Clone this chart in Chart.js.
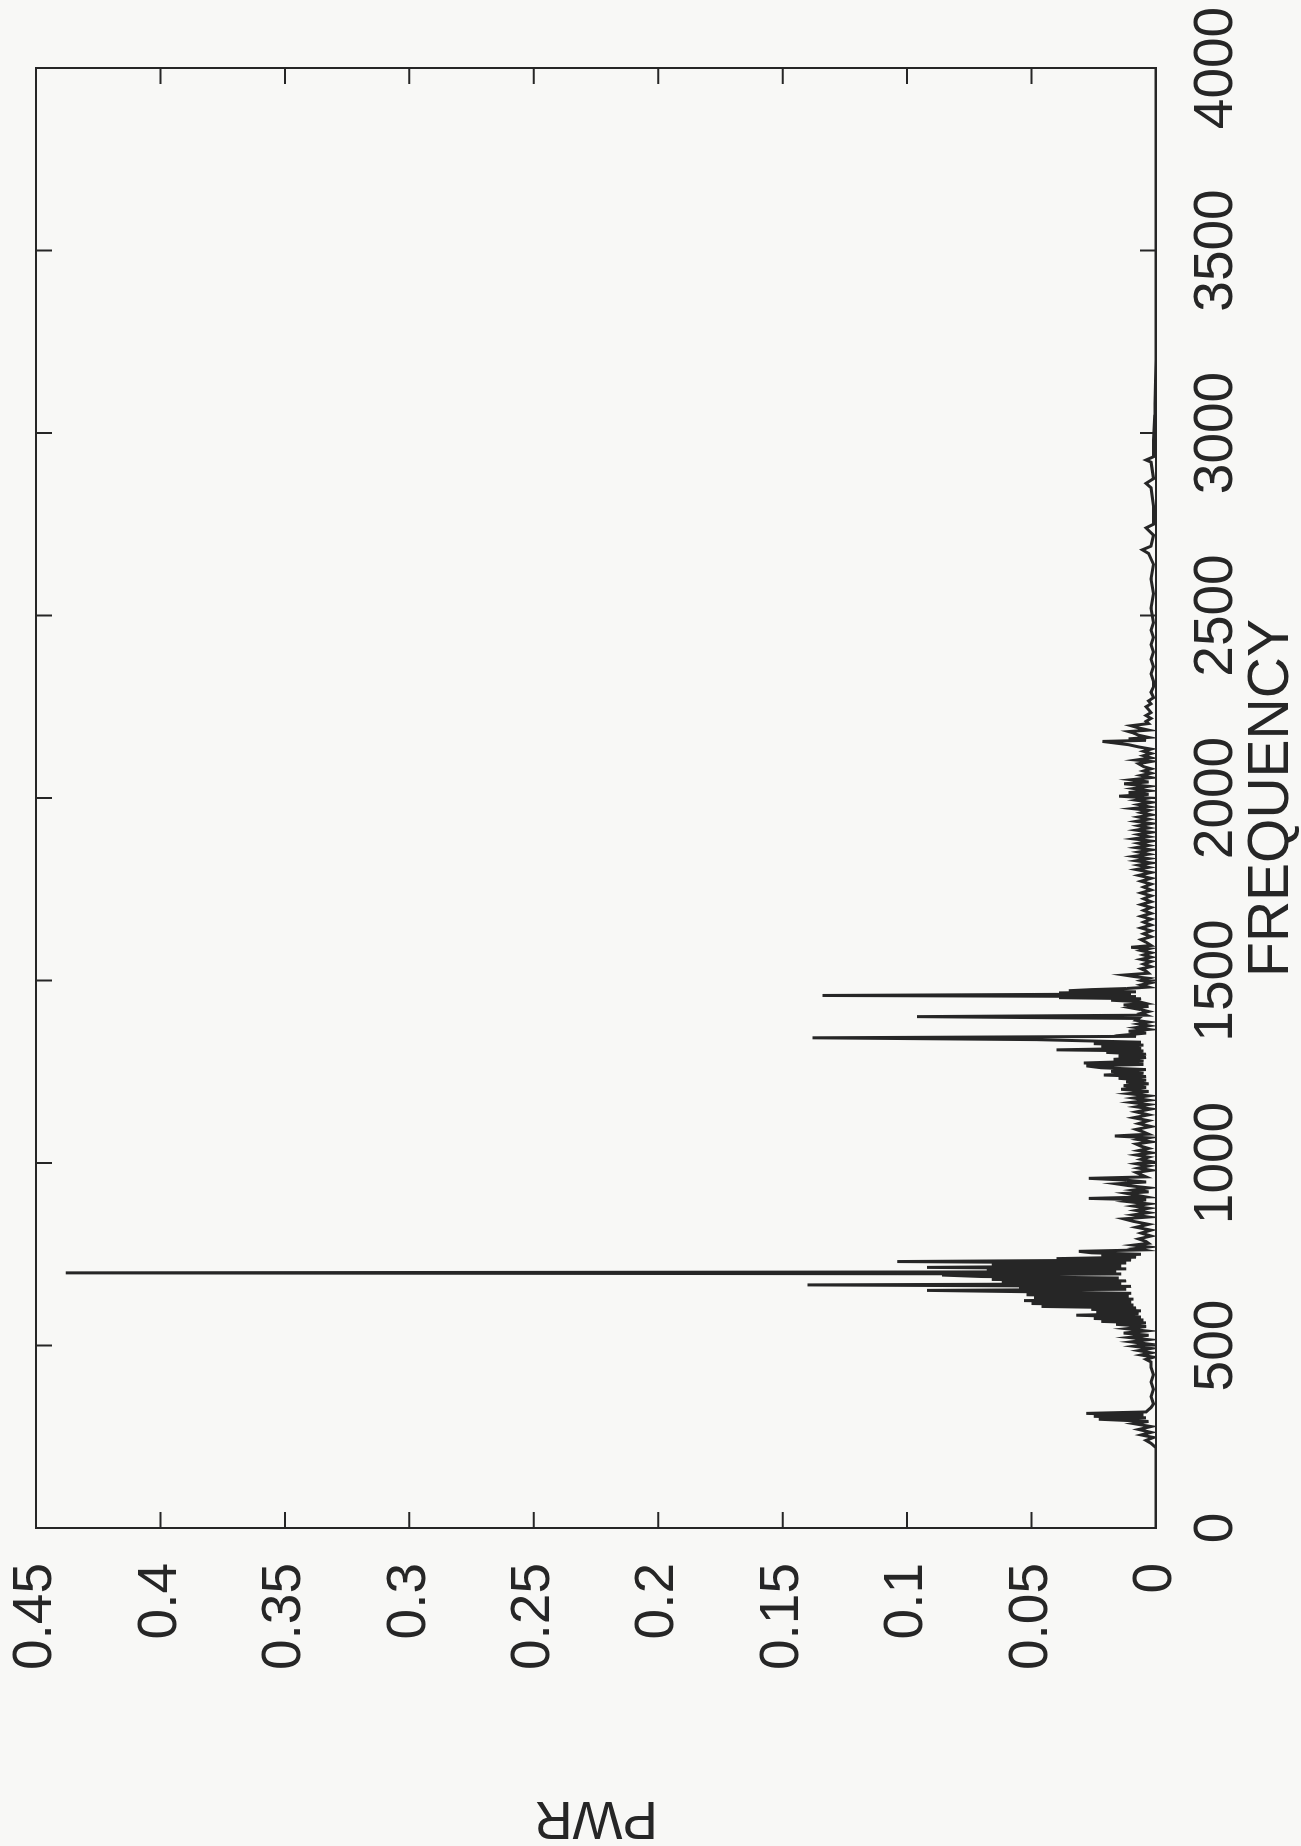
<!DOCTYPE html>
<html>
<head>
<meta charset="utf-8">
<script src="https://cdn.jsdelivr.net/npm/chart.js@4.4.1/dist/chart.umd.min.js"></script>
<style>
  html, body { margin: 0; padding: 0; overflow: hidden; background: #f8f8f6; }
  body { width: 1301px; height: 1846px; position: relative; }
  /* the scanned figure is printed sideways: draw it upright, then turn it */
  #turn {
    position: absolute; left: 0; top: 0;
    width: 1846px; height: 1301px;
    transform-origin: 0 0;
    transform: translateY(1846px) rotate(-90deg);
  }
</style>
</head>
<body>
<div id="turn"><canvas id="spec" width="1846" height="1301"></canvas></div>
<script>
// ---- data: [frequency, PWR] ----
const FREQ_TICKS = [0, 500, 1000, 1500, 2000, 2500, 3000, 3500, 4000];
const PWR_TICKS = [0, 0.05, 0.1, 0.15, 0.2, 0.25, 0.3, 0.35, 0.4, 0.45];

const band0to450 = [
  [0,0],[100,0],[220,0],[232,0.002],[240,0.004],[248,0.001],[255,0.006],[262,0.002],
  [270,0.007],[278,0.002],[286,0.009],[292,0.003],[298,0.023],[302,0.004],[306,0.025],
  [310,0.005],[314,0.028],[318,0.004],[324,0.003],[330,0.002],[340,0.001],[360,0.002],
  [380,0.001],[400,0.002],[420,0.001],[440,0.002]
];

const band450to780 = [
  [455,0.002],[462,0.004],[468,0.001],[474,0.006],[480,0.002],[486,0.007],[492,0.002],
  [498,0.009],[504,0.003],[510,0.010],[516,0.003],[522,0.011],[528,0.003],[534,0.013],
  [540,0.004],[546,0.012],[552,0.004],[558,0.016],[562,0.004],[566,0.022],[570,0.005],
  [574,0.025],[578,0.006],[583,0.032],[587,0.007],[591,0.024],[595,0.006],[599,0.026],
  [603,0.008],[607,0.046],[611,0.009],[615,0.050],[619,0.010],[623,0.053],[627,0.009],
  [631,0.049],[635,0.011],[639,0.052],[643,0.010],[647,0.048],[651,0.092],[654,0.012],
  [658,0.055],[662,0.010],[666,0.140],[669,0.014],[673,0.062],[677,0.012],[681,0.066],
  [685,0.015],[689,0.070],[693,0.086],[696,0.014],[699,0.438],[702,0.016],[706,0.068],
  [710,0.012],[714,0.092],[718,0.014],[722,0.066],[726,0.012],[730,0.104],[734,0.010],
  [738,0.040],[742,0.008],[746,0.022],[750,0.006],[754,0.026],[758,0.031],[762,0.005],
  [766,0.008],[770,0.003],[775,0.009],[780,0.003]
];

const band780to1080 = [
  [785,0.004],[792,0.007],[800,0.002],[808,0.006],[816,0.002],[824,0.008],[832,0.003],
  [840,0.009],[847,0.013],[852,0.003],[858,0.009],[864,0.003],[870,0.008],[876,0.003],
  [882,0.009],[888,0.003],[894,0.011],[899,0.004],[903,0.027],[907,0.004],[912,0.008],
  [917,0.012],[921,0.003],[926,0.009],[932,0.003],[938,0.011],[943,0.016],[948,0.004],
  [953,0.012],[958,0.027],[962,0.004],[968,0.006],[974,0.008],[980,0.002],[986,0.007],
  [992,0.003],[998,0.008],[1004,0.002],[1010,0.006],[1016,0.003],[1022,0.008],[1028,0.002],
  [1034,0.007],[1040,0.003],[1046,0.006],[1052,0.008],[1058,0.002],[1064,0.007],
  [1069,0.003],[1074,0.0165],[1079,0.003]
];

const band1080to1600 = [
  [1085,0.005],[1092,0.008],[1100,0.002],[1108,0.007],[1116,0.003],[1124,0.009],
  [1132,0.003],[1140,0.008],[1148,0.002],[1154,0.008],[1160,0.003],[1166,0.010],
  [1172,0.003],[1178,0.009],[1184,0.003],[1190,0.011],[1196,0.003],[1202,0.014],
  [1207,0.004],[1212,0.013],[1217,0.003],[1222,0.012],[1227,0.004],[1232,0.015],
  [1237,0.004],[1241,0.021],[1246,0.005],[1251,0.018],[1256,0.004],[1261,0.022],
  [1266,0.028],[1270,0.005],[1274,0.029],[1279,0.005],[1284,0.017],[1289,0.004],
  [1293,0.015],[1298,0.004],[1303,0.020],[1307,0.005],[1310,0.040],[1314,0.006],
  [1319,0.022],[1323,0.005],[1327,0.025],[1331,0.006],[1335,0.030],[1338,0.048],
  [1343,0.138],[1347,0.008],[1351,0.012],[1356,0.004],[1361,0.011],[1366,0.003],
  [1371,0.008],[1376,0.003],[1381,0.007],[1386,0.003],[1391,0.008],[1396,0.007],
  [1401,0.096],[1405,0.004],[1410,0.006],[1415,0.003],[1420,0.006],[1425,0.010],
  [1429,0.003],[1433,0.013],[1437,0.004],[1442,0.007],[1446,0.018],[1450,0.006],
  [1453,0.039],[1456,0.008],[1459,0.134],[1463,0.010],[1466,0.039],[1469,0.008],
  [1472,0.035],[1475,0.026],[1478,0.012],[1482,0.003],[1488,0.006],[1494,0.002],
  [1500,0.006],[1506,0.003],[1511,0.009],[1515,0.0128],[1520,0.003],[1526,0.004],
  [1532,0.006],[1538,0.002],[1545,0.005],[1552,0.002],[1558,0.006],[1564,0.002],
  [1570,0.005],[1576,0.002],[1582,0.006],[1587,0.003],[1591,0.010],[1596,0.002]
];

const band1600to2300 = [
  [1605,0.004],[1612,0.006],[1620,0.002],[1628,0.005],[1636,0.002],[1644,0.006],
  [1652,0.002],[1660,0.005],[1668,0.002],[1676,0.006],[1684,0.002],[1692,0.005],
  [1700,0.002],[1708,0.006],[1716,0.002],[1724,0.005],[1732,0.002],[1740,0.006],
  [1748,0.002],[1756,0.005],[1764,0.002],[1772,0.006],[1780,0.002],[1788,0.007],
  [1796,0.002],[1804,0.008],[1810,0.003],[1816,0.007],[1822,0.002],[1828,0.008],
  [1834,0.003],[1840,0.009],[1846,0.003],[1852,0.007],[1858,0.002],[1864,0.008],
  [1870,0.003],[1876,0.007],[1882,0.002],[1888,0.009],[1894,0.003],[1900,0.007],
  [1906,0.002],[1912,0.008],[1918,0.003],[1924,0.007],[1930,0.002],[1936,0.008],
  [1942,0.003],[1948,0.007],[1954,0.002],[1960,0.006],[1966,0.003],[1971,0.0095],
  [1976,0.003],[1982,0.007],[1988,0.002],[1994,0.008],[2000,0.003],[2005,0.0148],
  [2010,0.003],[2015,0.011],[2020,0.003],[2026,0.009],[2032,0.003],[2039,0.0128],
  [2044,0.003],[2050,0.010],[2056,0.002],[2062,0.006],[2068,0.002],[2074,0.005],
  [2080,0.002],[2086,0.005],[2094,0.007],[2100,0.002],[2104,0.008],[2110,0.002],
  [2116,0.005],[2122,0.002],[2128,0.005],[2134,0.002],[2140,0.007],[2146,0.011],
  [2155,0.0215],[2158,0.004],[2162,0.011],[2166,0.003],[2172,0.007],[2178,0.009],
  [2182,0.011],[2186,0.003],[2192,0.007],[2198,0.010],[2204,0.003],[2210,0.004],
  [2218,0.002],[2226,0.004],[2234,0.002],[2242,0.003],[2250,0.004],[2258,0.002],
  [2266,0.003],[2275,0.001],[2290,0.002]
];

const band2300to4000 = [
  [2305,0.001],[2320,0.001],[2340,0.002],[2360,0.001],[2380,0.002],[2400,0.001],
  [2420,0.002],[2440,0.001],[2460,0.002],[2480,0.001],[2520,0.002],[2560,0.001],
  [2600,0.002],[2640,0.001],[2670,0.003],[2680,0.0055],[2690,0.002],[2720,0.001],
  [2740,0.004],[2750,0.001],[2800,0.001],[2850,0.002],[2862,0.004],[2875,0.001],
  [2920,0.002],[2926,0.004],[2935,0.001],[2980,0.001],[3050,0.0005],[3200,0],[4000,0]
];

const spectrum = [].concat(band0to450, band450to780, band780to1080,
  band1080to1600, band1600to2300, band2300to4000);

// ---- chart ----
const INK = '#262626';
const FONT = "'Liberation Sans', Arial, Helvetica, sans-serif";

// box + inward ticks on all four sides (matlab style)
const framePlugin = {
  id: 'frame',
  afterDraw(chart) {
    const { ctx, chartArea: a, scales } = chart;
    const xs = scales.x, ys = scales.y;
    const tl = 16;
    ctx.save();
    ctx.strokeStyle = INK;
    ctx.lineWidth = 2;
    ctx.strokeRect(a.left, a.top, a.right - a.left, a.bottom - a.top);
    ctx.beginPath();
    FREQ_TICKS.forEach(v => {
      const px = xs.getPixelForValue(v);
      ctx.moveTo(px, a.bottom); ctx.lineTo(px, a.bottom - tl);
      ctx.moveTo(px, a.top); ctx.lineTo(px, a.top + tl);
    });
    PWR_TICKS.forEach(v => {
      const py = ys.getPixelForValue(v);
      ctx.moveTo(a.left, py); ctx.lineTo(a.left + tl, py);
      ctx.moveTo(a.right, py); ctx.lineTo(a.right - tl, py);
    });
    ctx.stroke();
    ctx.restore();
  }
};

// keep tick-label overhang from pushing the plot box around
function noOverhang(s) {
  s.paddingTop = 0; s.paddingBottom = 0; s.paddingLeft = 0; s.paddingRight = 0;
}

new Chart(document.getElementById('spec'), {
  type: 'line',
  data: {
    datasets: [{
      data: spectrum.map(p => ({ x: p[0], y: p[1] })),
      borderColor: INK,
      borderWidth: 3,
      pointRadius: 0,
      tension: 0,
      fill: false
    }]
  },
  options: {
    responsive: false,
    animation: false,
    devicePixelRatio: 1,
    layout: { padding: { left: 0, right: 68, top: 36, bottom: 0 } },
    plugins: { legend: { display: false }, tooltip: { enabled: false } },
    scales: {
      x: {
        type: 'linear', min: 0, max: 4000,
        afterFit(s) { s.height = 145; noOverhang(s); },
        afterBuildTicks(s) { s.ticks = FREQ_TICKS.map(v => ({ value: v })); },
        grid: { display: false, drawTicks: false },
        border: { display: false },
        ticks: { color: INK, font: { family: FONT, size: 55 }, padding: 28, maxRotation: 0,
                 autoSkip: false, callback: v => String(v) },
        title: { display: true, text: 'FREQUENCY', color: INK,
                 font: { family: FONT, size: 57, lineHeight: 1 }, padding: 0 }
      },
      y: {
        type: 'linear', min: 0, max: 0.45,
        afterFit(s) { s.width = 318; noOverhang(s); },
        afterBuildTicks(s) { s.ticks = PWR_TICKS.map(v => ({ value: v })); },
        grid: { display: false, drawTicks: false },
        border: { display: false },
        ticks: { color: INK, font: { family: FONT, size: 55 }, padding: 35, autoSkip: false,
                 callback: v => String(Number(v.toFixed(2))) },
        title: { display: true, text: 'PWR', color: INK,
                 font: { family: FONT, size: 53, lineHeight: 1.1 }, padding: 0 }
      }
    }
  },
  plugins: [framePlugin]
});
</script>
</body>
</html>
